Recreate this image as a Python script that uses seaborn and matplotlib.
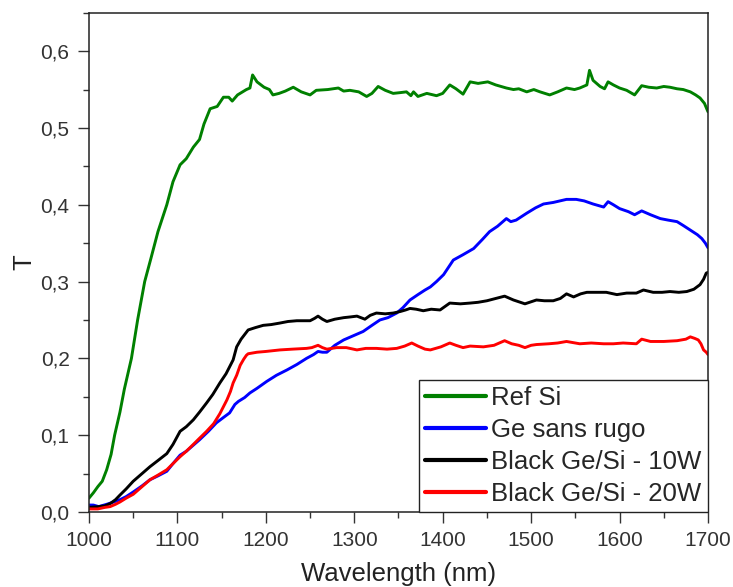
import matplotlib
matplotlib.use("Agg")
import matplotlib.pyplot as plt
import matplotlib.ticker as mticker
import seaborn as sns
import pandas as pd

# transmission spectra
wl_ref = [1000, 1005, 1010, 1015, 1020, 1025, 1029, 1035, 1040, 1048, 1055, 1063, 1070, 1078, 1088,
          1095, 1103, 1110, 1118, 1125, 1130, 1137, 1145, 1152, 1158, 1162, 1168, 1178, 1182, 1185,
          1190, 1198, 1204, 1208, 1215, 1222, 1231, 1240, 1250, 1257, 1270, 1282, 1288, 1295, 1305,
          1314, 1320, 1327, 1335, 1344, 1352, 1359, 1364, 1367, 1372, 1382, 1393, 1400, 1408, 1415,
          1423, 1431, 1440, 1451, 1460, 1472, 1480, 1486, 1495, 1503, 1510, 1521, 1530, 1540, 1549,
          1555, 1559, 1563, 1566, 1570, 1578, 1583, 1587, 1593, 1600, 1608, 1617, 1625, 1633, 1642,
          1650, 1657, 1665, 1672, 1680, 1686, 1691, 1696, 1700]
t_ref = [0.018, 0.025, 0.033, 0.040, 0.055, 0.075, 0.100, 0.130, 0.160, 0.200, 0.250, 0.300, 0.330,
         0.365, 0.400, 0.430, 0.452, 0.460, 0.475, 0.485, 0.505, 0.525, 0.528, 0.540, 0.540, 0.535,
         0.543, 0.550, 0.552, 0.569, 0.560, 0.553, 0.550, 0.543, 0.545, 0.548, 0.553, 0.547, 0.543,
         0.549, 0.550, 0.552, 0.548, 0.549, 0.547, 0.541, 0.545, 0.554, 0.549, 0.545, 0.546, 0.547,
         0.542, 0.547, 0.541, 0.545, 0.542, 0.545, 0.556, 0.551, 0.544, 0.560, 0.558, 0.560, 0.556,
         0.552, 0.550, 0.551, 0.547, 0.550, 0.547, 0.543, 0.547, 0.552, 0.550, 0.552, 0.554, 0.556,
         0.575, 0.562, 0.554, 0.551, 0.560, 0.556, 0.552, 0.549, 0.543, 0.555, 0.553, 0.552, 0.554,
         0.553, 0.551, 0.550, 0.547, 0.543, 0.539, 0.532, 0.521]

wl_ge = [1000, 1005, 1011, 1020, 1028, 1035, 1042, 1050, 1060, 1069, 1078, 1088, 1095, 1103, 1110,
         1118, 1125, 1135, 1144, 1152, 1159, 1165, 1169, 1176, 1182, 1190, 1201, 1212, 1224, 1235,
         1246, 1254, 1259, 1264, 1269, 1278, 1288, 1300, 1310, 1320, 1329, 1338, 1348, 1355, 1363,
         1372, 1380, 1386, 1393, 1401, 1412, 1423, 1435, 1445, 1453, 1462, 1472, 1477, 1483, 1495,
         1505, 1514, 1525, 1540, 1551, 1560, 1570, 1582, 1587, 1593, 1600, 1610, 1617, 1625, 1635,
         1646, 1655, 1665, 1672, 1680, 1688, 1693, 1697, 1700]
t_ge = [0.009, 0.009, 0.007, 0.010, 0.013, 0.016, 0.020, 0.026, 0.034, 0.042, 0.047, 0.053, 0.063,
        0.074, 0.079, 0.087, 0.094, 0.105, 0.116, 0.123, 0.129, 0.140, 0.144, 0.149, 0.155, 0.161,
        0.170, 0.178, 0.185, 0.192, 0.200, 0.205, 0.209, 0.208, 0.208, 0.217, 0.224, 0.230, 0.235,
        0.243, 0.250, 0.253, 0.259, 0.266, 0.276, 0.283, 0.289, 0.293, 0.300, 0.309, 0.328, 0.335,
        0.343, 0.355, 0.365, 0.372, 0.382, 0.378, 0.380, 0.389, 0.396, 0.401, 0.403, 0.407, 0.407,
        0.405, 0.401, 0.397, 0.404, 0.400, 0.395, 0.391, 0.387, 0.392, 0.387, 0.382, 0.380, 0.378,
        0.373, 0.367, 0.361, 0.356, 0.350, 0.344]

wl_10w = [1000, 1011, 1018, 1024, 1030, 1035, 1042, 1050, 1060, 1069, 1078, 1088, 1095, 1103, 1110,
          1118, 1125, 1133, 1140, 1148, 1155, 1159, 1163, 1167, 1172, 1180, 1188, 1197, 1206, 1216,
          1225, 1235, 1250, 1255, 1259, 1264, 1269, 1278, 1288, 1296, 1303, 1312, 1318, 1325, 1335,
          1344, 1352, 1358, 1363, 1370, 1378, 1387, 1397, 1408, 1420, 1431, 1440, 1450, 1460, 1470,
          1480, 1493, 1506, 1515, 1525, 1533, 1540, 1548, 1556, 1563, 1575, 1585, 1597, 1608, 1619,
          1627, 1638, 1648, 1657, 1667, 1676, 1684, 1691, 1695, 1698, 1700]
t_10w = [0.006, 0.007, 0.008, 0.011, 0.016, 0.022, 0.030, 0.040, 0.050, 0.059, 0.067, 0.076, 0.088,
         0.105, 0.111, 0.120, 0.130, 0.142, 0.153, 0.168, 0.180, 0.189, 0.198, 0.215, 0.225, 0.237,
         0.240, 0.243, 0.244, 0.246, 0.248, 0.249, 0.249, 0.252, 0.255, 0.251, 0.248, 0.251, 0.253,
         0.254, 0.255, 0.251, 0.256, 0.259, 0.258, 0.259, 0.261, 0.263, 0.265, 0.264, 0.262, 0.264,
         0.263, 0.272, 0.271, 0.272, 0.273, 0.275, 0.278, 0.281, 0.276, 0.271, 0.276, 0.275, 0.275,
         0.278, 0.284, 0.280, 0.284, 0.286, 0.286, 0.286, 0.283, 0.285, 0.285, 0.289, 0.286, 0.286,
         0.287, 0.286, 0.287, 0.290, 0.296, 0.303, 0.311, 0.312]

wl_20w = [1000, 1010, 1018, 1024, 1030, 1035, 1042, 1050, 1060, 1069, 1078, 1088, 1095, 1103, 1110,
          1118, 1125, 1133, 1141, 1148, 1156, 1160, 1163, 1167, 1171, 1175, 1178, 1180, 1190, 1200,
          1216, 1230, 1246, 1252, 1259, 1264, 1269, 1280, 1291, 1303, 1313, 1325, 1337, 1348, 1357,
          1365, 1372, 1380, 1386, 1398, 1408, 1415, 1423, 1431, 1446, 1458, 1470, 1478, 1486, 1493,
          1500, 1506, 1520, 1530, 1540, 1555, 1568, 1582, 1593, 1604, 1619, 1625, 1635, 1650, 1665,
          1675, 1680, 1685, 1689, 1692, 1695, 1698, 1700]
t_20w = [0.004, 0.004, 0.006, 0.007, 0.010, 0.013, 0.018, 0.023, 0.033, 0.042, 0.048, 0.055, 0.063,
         0.072, 0.079, 0.088, 0.096, 0.105, 0.115, 0.128, 0.146, 0.157, 0.168, 0.178, 0.191, 0.199,
         0.204, 0.206, 0.208, 0.209, 0.211, 0.212, 0.213, 0.214, 0.217, 0.214, 0.212, 0.214, 0.214,
         0.211, 0.213, 0.213, 0.212, 0.213, 0.216, 0.220, 0.216, 0.212, 0.211, 0.215, 0.220, 0.217,
         0.214, 0.216, 0.215, 0.217, 0.223, 0.219, 0.217, 0.214, 0.217, 0.218, 0.219, 0.220, 0.222,
         0.219, 0.220, 0.219, 0.219, 0.220, 0.219, 0.225, 0.222, 0.222, 0.223, 0.225, 0.228, 0.226,
         0.224, 0.219, 0.211, 0.208, 0.205]

labels = ["Ref Si", "Ge sans rugo", "Black Ge/Si - 10W", "Black Ge/Si - 20W"]
colors = ["#008000", "#0000ff", "#000000", "#ff0000"]

df = pd.concat([
    pd.DataFrame({"wl": wl_ref, "T": t_ref, "sample": labels[0]}),
    pd.DataFrame({"wl": wl_ge, "T": t_ge, "sample": labels[1]}),
    pd.DataFrame({"wl": wl_10w, "T": t_10w, "sample": labels[2]}),
    pd.DataFrame({"wl": wl_20w, "T": t_20w, "sample": labels[3]}),
], ignore_index=True)

sns.set_style("white")
plt.rcParams["font.family"] = ["Liberation Sans", "DejaVu Sans"]

fig = plt.figure(figsize=(7.33, 5.87), dpi=100)
ax = fig.add_axes([0.1214, 0.1278, 0.8445, 0.8505])

sns.lineplot(data=df, x="wl", y="T", hue="sample", hue_order=labels,
             palette=colors, linewidth=2.1, estimator=None, sort=False, ax=ax)

ax.set_xlim(1000, 1700)
ax.set_ylim(0, 0.65)
ax.xaxis.set_major_locator(mticker.MultipleLocator(100))
ax.xaxis.set_minor_locator(mticker.MultipleLocator(50))
ax.yaxis.set_major_locator(mticker.MultipleLocator(0.1))
ax.yaxis.set_minor_locator(mticker.MultipleLocator(0.05))
ax.yaxis.set_major_formatter(mticker.FuncFormatter(lambda v, p: f"{v:.1f}".replace(".", ",")))

ax.tick_params(which="major", direction="out", length=8, width=1, color="#333333", pad=6,
               labelsize=15, labelcolor="#333333", bottom=True, left=True, top=False, right=False)
ax.tick_params(which="minor", direction="out", length=4, width=1, color="#333333",
               bottom=True, left=True, top=False, right=False)
for s in ax.spines.values():
    s.set_color("#222222")
    s.set_linewidth(1.1)

ax.set_xlabel("Wavelength (nm)", fontsize=18.5, color="#222222", labelpad=8)
ax.set_ylabel("T", fontsize=18.5, color="#222222", labelpad=3)

handles, lbls = ax.get_legend_handles_labels()
leg = ax.legend(handles, lbls, loc="lower right", fontsize=18.5, frameon=True,
                fancybox=False, edgecolor="#222222", framealpha=1, borderaxespad=0,
                borderpad=0.25, handlelength=2.35, handletextpad=0.22, labelspacing=0.3)
leg.get_frame().set_linewidth(1.0)
for line in leg.get_lines():
    line.set_linewidth(3)

fig.savefig("out.png", dpi=100)
